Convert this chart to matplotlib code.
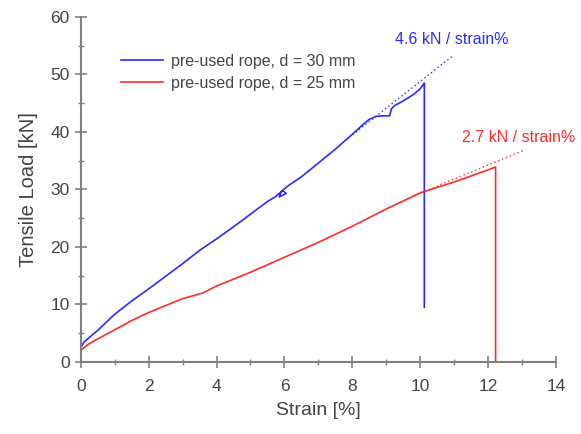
import matplotlib.pyplot as plt
from matplotlib.ticker import MultipleLocator

plt.rcParams['font.family'] = ['Liberation Sans', 'DejaVu Sans']

# --- data ---
strain_30 = [0.0, 0.1, 0.5, 1.0, 1.5, 2.0, 2.5, 3.0, 3.5, 4.0, 4.5, 5.0, 5.5, 5.75,
             5.95, 6.05, 5.85, 5.9, 6.1, 6.5, 7.0, 7.5, 8.0, 8.3, 8.5, 8.7, 8.9,
             9.1, 9.15, 9.25, 9.5, 9.8, 10.0, 10.12, 10.12]
load_30 = [2.5, 3.5, 5.5, 8.3, 10.6, 12.7, 14.9, 17.1, 19.4, 21.4, 23.5, 25.7, 27.9, 28.8,
           29.8, 29.3, 28.7, 29.6, 30.6, 32.2, 34.6, 37.0, 39.6, 41.2, 42.2, 42.7, 42.8,
           42.8, 44.0, 44.6, 45.4, 46.5, 47.5, 48.5, 9.5]

strain_25 = [0.0, 0.2, 0.5, 1.0, 1.5, 2.0, 2.5, 3.0, 3.6, 4.0, 5.0, 6.0, 7.0, 8.0,
             9.0, 10.0, 11.0, 12.0, 12.22, 12.22]
load_25 = [2.0, 3.0, 4.0, 5.6, 7.2, 8.6, 9.8, 11.0, 12.0, 13.2, 15.6, 18.2, 20.8, 23.6,
           26.6, 29.4, 31.3, 33.4, 33.9, 0.0]

fit_30_x = [8.0, 10.93]
fit_30_y = [39.5, 53.1]
fit_25_x = [9.8, 13.05]
fit_25_y = [28.9, 36.8]

blue = '#2b2bff'
red = '#ff2b2b'
gray = '#808080'
txt = '#444444'

fig = plt.figure(figsize=(5.81, 4.34), dpi=100)
ax = fig.add_axes([0.139, 0.166, 0.818, 0.795])

ax.plot(strain_30, load_30, color=blue, lw=1.2, label='pre-used rope, d = 30 mm')
ax.plot(strain_25, load_25, color=red, lw=1.2, label='pre-used rope, d = 25 mm')
ax.plot(fit_30_x, fit_30_y, color=blue, lw=1.0, ls=(0, (1, 2)))
ax.plot(fit_25_x, fit_25_y, color=red, lw=1.0, ls=(0, (1, 2)))

ax.text(9.26, 56, '4.6 kN / strain%', color=blue, fontsize=11.5, va='center')
ax.text(11.24, 39.1, '2.7 kN / strain%', color=red, fontsize=11.5, va='center', clip_on=False)

ax.set_xlim(0, 14)
ax.set_ylim(0, 60)
ax.xaxis.set_major_locator(MultipleLocator(2))
ax.xaxis.set_minor_locator(MultipleLocator(1))
ax.yaxis.set_major_locator(MultipleLocator(10))
ax.yaxis.set_minor_locator(MultipleLocator(5))

for s in ['top', 'right']:
    ax.spines[s].set_visible(False)
for s in ['left', 'bottom']:
    ax.spines[s].set_color(gray)
    ax.spines[s].set_linewidth(1.5)

ax.tick_params(which='major', direction='inout', length=8, width=1.2, color=gray,
               labelsize=12.5, labelcolor=txt, pad=4)
ax.tick_params(axis='x', which='major', pad=8)
ax.tick_params(which='minor', direction='inout', length=4, width=1.0, color=gray)

ax.set_xlabel('Strain [%]', fontsize=14, color=txt, labelpad=6)
ax.set_ylabel('Tensile Load [kN]', fontsize=14.5, color=txt, labelpad=9)

ax.legend(loc='upper left', bbox_to_anchor=(0.055, 0.935), frameon=False, fontsize=11.5,
          handlelength=2.6, handletextpad=0.5, labelspacing=0.45, labelcolor=txt)

fig.savefig('out.png', dpi=100)
